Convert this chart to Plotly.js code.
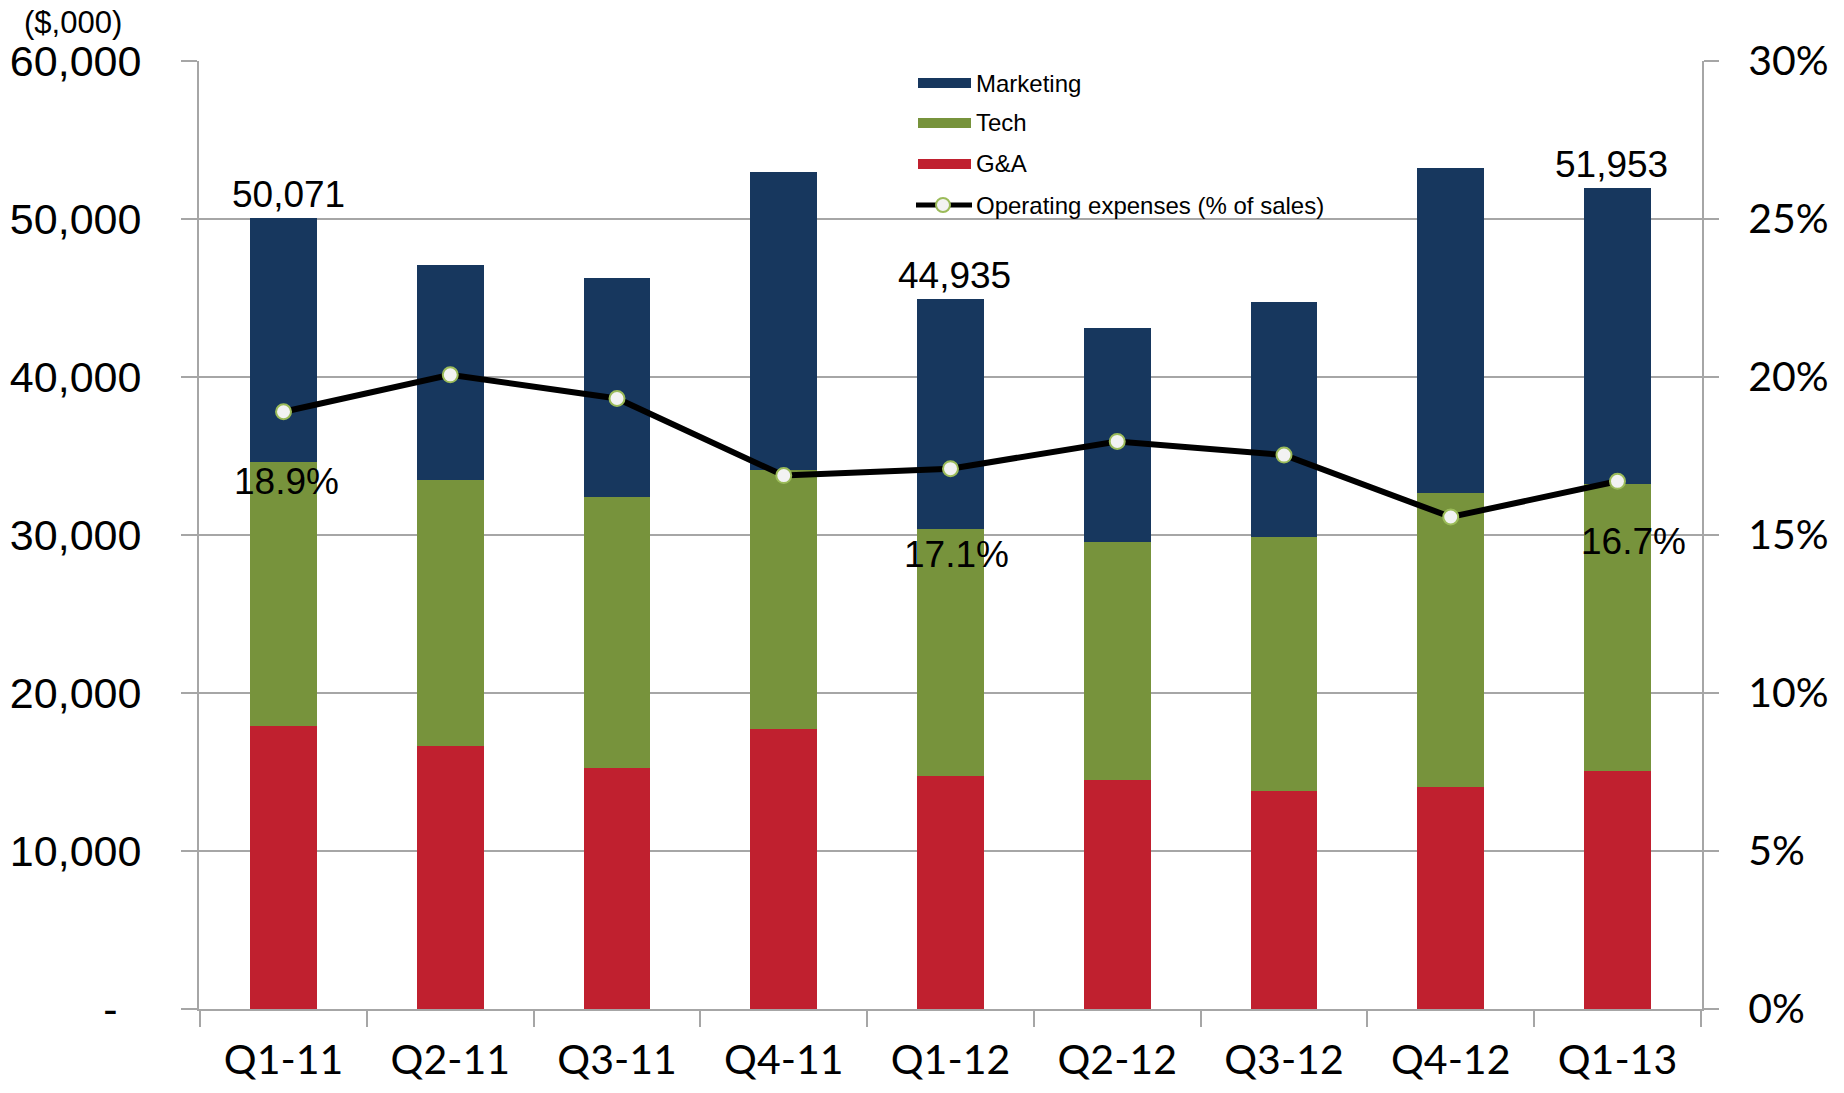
<!DOCTYPE html>
<html>
<head>
<meta charset="utf-8">
<script src="https://cdn.plot.ly/plotly-3.0.1.min.js"></script>
<style>
  html, body { margin: 0; padding: 0; background: #ffffff; }
  #chart { width: 1844px; height: 1093px; }
</style>
</head>
<body>
<div id="chart"></div>
<script>
// ---- Data ----
const quarters = ['Q1-11', 'Q2-11', 'Q3-11', 'Q4-11', 'Q1-12', 'Q2-12', 'Q3-12', 'Q4-12', 'Q1-13'];
const gaValues = [17920, 16670, 15280, 17700, 14770, 14480, 13810, 14060, 15050];
const techValues = [16680, 16830, 17150, 16390, 15630, 15100, 16070, 18620, 18160];
const marketingValues = [15471, 13620, 13810, 18880, 14535, 13500, 14870, 20520, 18743];
const opexPct = [0.189, 0.2007, 0.1932, 0.1688, 0.171, 0.1796, 0.1753, 0.1557, 0.167];
const labeledQuarters = ['Q1-11', 'Q1-12', 'Q1-13'];
const leftTickVals = [0, 10000, 20000, 30000, 40000, 50000, 60000];
const leftTickText = ['-\u00a0\u00a0', '10,000', '20,000', '30,000', '40,000', '50,000', '60,000'];
const rightTickVals = [0, 0.05, 0.10, 0.15, 0.20, 0.25, 0.30];
const seriesNames = ['Marketing', 'Tech', 'G&A', 'Operating expenses (% of sales)'];

// ---- Styles ----
const colMarketing = '#17375e';
const colTech = '#77933c';
const colGA = '#c0202f';
const gridCol = '#a6a6a6';
const arial = 'Liberation Sans, Arial, sans-serif';
const calibriLike = 'Lato, Open Sans, sans-serif';

const totals = quarters.map((q, i) => gaValues[i] + techValues[i] + marketingValues[i]);

const traces = [
  { type: 'bar', name: seriesNames[2], x: quarters, y: gaValues, marker: { color: colGA }, showlegend: false, hoverinfo: 'x+y' },
  { type: 'bar', name: seriesNames[1], x: quarters, y: techValues, marker: { color: colTech }, showlegend: false, hoverinfo: 'x+y' },
  { type: 'bar', name: seriesNames[0], x: quarters, y: marketingValues, marker: { color: colMarketing }, showlegend: false, hoverinfo: 'x+y' },
  { type: 'scatter', mode: 'lines+markers', name: seriesNames[3], x: quarters, y: opexPct, yaxis: 'y2',
    line: { color: '#000000', width: 6 },
    marker: { size: 15, color: '#f2f2f2', line: { color: '#9bbb59', width: 2 } },
    cliponaxis: false, showlegend: false }
];

// plot-area pixel geometry (for the hand-built legend only)
const L = 199, R = 1702, T = 61, B = 1009;
const px2x = p => (p - L) / (R - L);
const px2y = p => (B - p) / (B - T);

const annotations = [];
const shapes = [];

// total labels above selected bars
const totalShift = { 'Q1-11': 5, 'Q1-12': 4, 'Q1-13': -6 };
labeledQuarters.forEach(q => {
  const i = quarters.indexOf(q);
  annotations.push({
    x: q, y: totals[i], xref: 'x', yref: 'y', yanchor: 'bottom', showarrow: false,
    text: totals[i].toLocaleString('en-US'), yshift: 1, xshift: totalShift[q],
    font: { family: arial, size: 37, color: '#000000' }
  });
});

// percent labels below selected markers
const pctShift = { 'Q1-11': [3, -70], 'Q1-12': [6, -86], 'Q1-13': [16, -60] };
labeledQuarters.forEach(q => {
  const i = quarters.indexOf(q);
  annotations.push({
    x: q, y: opexPct[i], xref: 'x', yref: 'y2', yanchor: 'middle', showarrow: false,
    text: (opexPct[i] * 100).toFixed(1) + '%', xshift: pctShift[q][0], yshift: pctShift[q][1],
    font: { family: arial, size: 37, color: '#000000' }
  });
});

// custom legend
const legendRows = [83, 123, 164, 205];
const legendColors = [colMarketing, colTech, colGA];
legendColors.forEach((c, k) => {
  shapes.push({ type: 'rect', xref: 'paper', yref: 'paper',
    x0: px2x(918), x1: px2x(971), y0: px2y(legendRows[k] - 5), y1: px2y(legendRows[k] + 5),
    fillcolor: c, line: { width: 0 } });
});
shapes.push({ type: 'line', xref: 'paper', yref: 'paper',
  x0: px2x(916), x1: px2x(972), y0: px2y(legendRows[3]), y1: px2y(legendRows[3]),
  line: { color: '#000000', width: 5 } });
shapes.push({ type: 'circle', xref: 'paper', yref: 'paper',
  x0: px2x(936), x1: px2x(950), y0: px2y(legendRows[3] - 7), y1: px2y(legendRows[3] + 7),
  fillcolor: '#f2f2f2', line: { color: '#9bbb59', width: 2 } });
seriesNames.forEach((n, k) => {
  annotations.push({ xref: 'paper', yref: 'paper', x: px2x(974), y: px2y(legendRows[k]),
    xanchor: 'left', yanchor: 'middle', showarrow: false, text: n,
    font: { family: arial, size: 24, color: '#000000' } });
});

// units label
annotations.push({ xref: 'paper', yref: 'paper', x: px2x(73), y: px2y(23),
  xanchor: 'center', yanchor: 'middle', showarrow: false, text: '($,000)',
  font: { family: arial, size: 31, color: '#000000' } });

const layout = {
  width: 1844, height: 1093,
  margin: { l: 199, r: 142, t: 61, b: 84, pad: 0 },
  paper_bgcolor: '#ffffff', plot_bgcolor: '#ffffff',
  barmode: 'stack', bargap: 0.6,
  showlegend: false,
  xaxis: {
    type: 'category', tickson: 'boundaries', ticks: 'outside', ticklen: 16, tickwidth: 2, tickcolor: gridCol,
    showline: true, linecolor: gridCol, linewidth: 2, showgrid: false, zeroline: false,
    tickfont: { family: calibriLike, size: 41, color: '#000000' }, ticklabelstandoff: 14
  },
  yaxis: {
    range: [0, 60000], tickvals: leftTickVals, ticktext: leftTickText,
    ticks: 'outside', ticklen: 16, tickwidth: 2, tickcolor: gridCol,
    showline: true, linecolor: gridCol, linewidth: 2,
    showgrid: true, gridcolor: gridCol, gridwidth: 2, zeroline: false,
    tickfont: { family: arial, size: 43, color: '#000000' }, ticklabelstandoff: 31
  },
  yaxis2: {
    range: [0, 0.30], tickvals: rightTickVals, tickformat: '.0%', overlaying: 'y', side: 'right',
    ticks: 'outside', ticklen: 15, tickwidth: 2, tickcolor: gridCol,
    showline: true, linecolor: gridCol, linewidth: 2, showgrid: false, zeroline: false,
    tickfont: { family: calibriLike, size: 41, color: '#000000' }, ticklabelstandoff: 21
  },
  annotations: annotations,
  shapes: shapes
};

Plotly.newPlot('chart', traces, layout, { displayModeBar: false, staticPlot: true });
</script>
</body>
</html>
